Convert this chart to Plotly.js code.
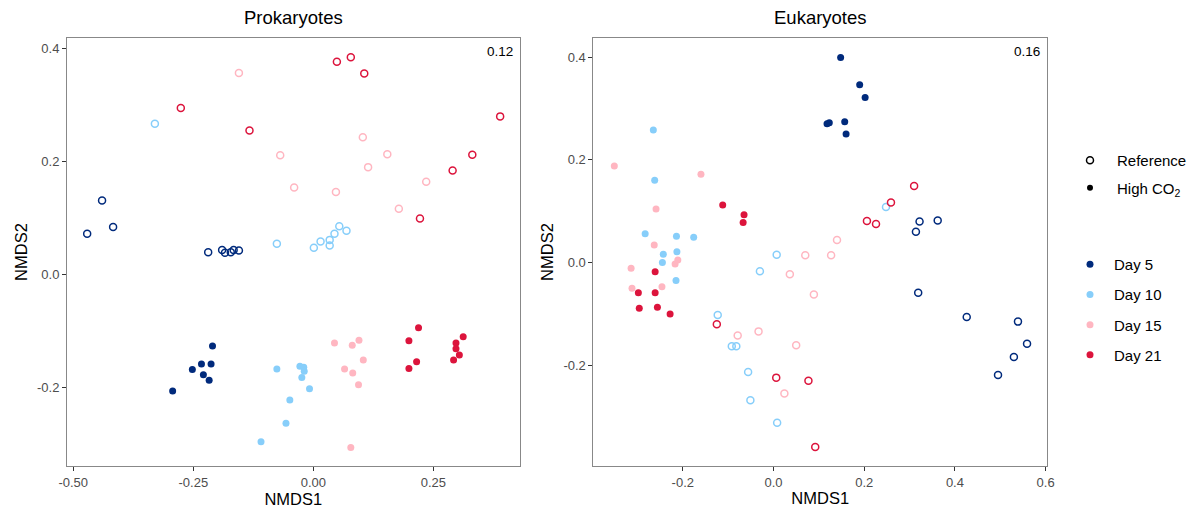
<!DOCTYPE html>
<html>
<head>
<meta charset="utf-8">
<script src="https://cdn.plot.ly/plotly-3.0.1.min.js"></script>
<style>html,body{margin:0;padding:0;background:#fff;}#chart{width:1192px;height:511px;}</style>
</head>
<body>
<div id="chart"></div>
<script>
// ---------- Data (NMDS coordinates) ----------
const panelTitles = ["Prokaryotes", "Eukaryotes"];
const stressLabels = ["0.12", "0.16"];
const days = ["Day 5", "Day 10", "Day 15", "Day 21"];
const dayColors = ["#002a7c", "#87cefa", "#ffb6c1", "#dc143c"];
const treatments = ["Reference", "High CO<sub>2</sub>"];

// Prokaryotes – Reference (open circles)
const pro_ref_d5_x  = [-0.440, -0.471, -0.417, -0.219, -0.190, -0.184, -0.172, -0.166, -0.155];
const pro_ref_d5_y  = [0.131, 0.072, 0.084, 0.039, 0.043, 0.038, 0.039, 0.043, 0.042];
const pro_ref_d10_x = [-0.330, -0.076, 0.001, 0.015, 0.034, 0.034, 0.044, 0.054, 0.069];
const pro_ref_d10_y = [0.267, 0.054, 0.047, 0.058, 0.061, 0.051, 0.072, 0.085, 0.077];
const pro_ref_d15_x = [-0.155, -0.069, -0.040, 0.047, 0.103, 0.114, 0.154, 0.178, 0.235];
const pro_ref_d15_y = [0.357, 0.211, 0.154, 0.146, 0.243, 0.190, 0.213, 0.116, 0.164];
const pro_ref_d21_x = [-0.276, -0.133, 0.049, 0.078, 0.106, 0.389, 0.331, 0.290, 0.222];
const pro_ref_d21_y = [0.295, 0.255, 0.377, 0.385, 0.356, 0.280, 0.212, 0.184, 0.099];
// Prokaryotes – High CO2 (filled)
const pro_high_d5_x  = [-0.210, -0.233, -0.213, -0.252, -0.229, -0.217, -0.293];
const pro_high_d5_y  = [-0.127, -0.159, -0.159, -0.169, -0.178, -0.188, -0.207];
const pro_high_d10_x = [-0.076, -0.028, -0.020, -0.019, -0.024, -0.008, -0.049, -0.057, -0.109];
const pro_high_d10_y = [-0.168, -0.163, -0.165, -0.172, -0.183, -0.203, -0.223, -0.264, -0.297];
const pro_high_d15_x = [0.044, 0.081, 0.095, 0.104, 0.065, 0.082, 0.094, 0.078];
const pro_high_d15_y = [-0.122, -0.126, -0.117, -0.152, -0.168, -0.175, -0.196, -0.307];
const pro_high_d21_x = [0.219, 0.199, 0.215, 0.199, 0.312, 0.297, 0.297, 0.304, 0.292];
const pro_high_d21_y = [-0.095, -0.118, -0.155, -0.167, -0.111, -0.122, -0.132, -0.143, -0.152];

// Eukaryotes – Reference (open circles)
const euk_ref_d5_x  = [0.322, 0.362, 0.314, 0.319, 0.426, 0.539, 0.559, 0.530, 0.495];
const euk_ref_d5_y  = [0.080, 0.082, 0.060, -0.059, -0.106, -0.115, -0.158, -0.184, -0.219];
const euk_ref_d10_x = [0.248, 0.007, -0.030, -0.123, -0.092, -0.082, -0.056, -0.051, 0.008];
const euk_ref_d10_y = [0.108, 0.015, -0.017, -0.102, -0.163, -0.163, -0.213, -0.268, -0.312];
const euk_ref_d15_x = [0.140, 0.127, 0.070, 0.036, 0.089, -0.079, -0.033, 0.050, 0.024];
const euk_ref_d15_y = [0.044, 0.014, 0.014, -0.023, -0.062, -0.142, -0.134, -0.161, -0.255];
const euk_ref_d21_x = [0.310, 0.259, 0.206, 0.226, -0.125, 0.006, 0.077, 0.092];
const euk_ref_d21_y = [0.149, 0.117, 0.081, 0.075, -0.120, -0.224, -0.230, -0.359];
// Eukaryotes – High CO2 (filled)
const euk_high_d5_x  = [0.148, 0.190, 0.202, 0.118, 0.123, 0.157, 0.160];
const euk_high_d5_y  = [0.399, 0.346, 0.321, 0.270, 0.272, 0.274, 0.250];
const euk_high_d10_x = [-0.265, -0.262, -0.283, -0.214, -0.176, -0.243, -0.213, -0.245, -0.215];
const euk_high_d10_y = [0.258, 0.160, 0.056, 0.051, 0.049, 0.016, 0.021, 0.000, -0.035];
const euk_high_d15_x = [-0.351, -0.160, -0.259, -0.263, -0.211, -0.217, -0.314, -0.312, -0.246];
const euk_high_d15_y = [0.188, 0.172, 0.104, 0.034, 0.005, -0.003, -0.011, -0.050, -0.047];
const euk_high_d21_x = [-0.112, -0.065, -0.067, -0.261, -0.298, -0.261, -0.296, -0.256, -0.228];
const euk_high_d21_y = [0.112, 0.093, 0.078, -0.018, -0.059, -0.059, -0.089, -0.087, -0.100];

// Tick labels
const proXTicks = [-0.50, -0.25, 0.00, 0.25];
const proXLabels = ["-0.50", "-0.25", "0.00", "0.25"];
const proYTicks = [-0.2, 0.0, 0.2, 0.4];
const proYLabels = ["-0.2", "0.0", "0.2", "0.4"];
const eukXTicks = [-0.2, 0.0, 0.2, 0.4, 0.6];
const eukXLabels = ["-0.2", "0.0", "0.2", "0.4", "0.6"];
const eukYTicks = [-0.2, 0.0, 0.2, 0.4];
const eukYLabels = ["-0.2", "0.0", "0.2", "0.4"];

// ---------- Build traces ----------
const panels = [
  {ax: ["x", "y"], ref: [[pro_ref_d5_x, pro_ref_d5_y], [pro_ref_d10_x, pro_ref_d10_y], [pro_ref_d15_x, pro_ref_d15_y], [pro_ref_d21_x, pro_ref_d21_y]],
   high: [[pro_high_d5_x, pro_high_d5_y], [pro_high_d10_x, pro_high_d10_y], [pro_high_d15_x, pro_high_d15_y], [pro_high_d21_x, pro_high_d21_y]]},
  {ax: ["x2", "y2"], ref: [[euk_ref_d5_x, euk_ref_d5_y], [euk_ref_d10_x, euk_ref_d10_y], [euk_ref_d15_x, euk_ref_d15_y], [euk_ref_d21_x, euk_ref_d21_y]],
   high: [[euk_high_d5_x, euk_high_d5_y], [euk_high_d10_x, euk_high_d10_y], [euk_high_d15_x, euk_high_d15_y], [euk_high_d21_x, euk_high_d21_y]]}
];

const traces = [];
panels.forEach(p => {
  p.ref.forEach((d, i) => traces.push({
    x: d[0], y: d[1], xaxis: p.ax[0], yaxis: p.ax[1], type: "scatter", mode: "markers", showlegend: false, hoverinfo: "skip",
    marker: {symbol: "circle-open", size: 7, color: dayColors[i], line: {width: 1.5, color: dayColors[i]}}
  }));
  p.high.forEach((d, i) => traces.push({
    x: d[0], y: d[1], xaxis: p.ax[0], yaxis: p.ax[1], type: "scatter", mode: "markers", showlegend: false, hoverinfo: "skip",
    marker: {symbol: "circle", size: 7, color: dayColors[i]}
  }));
});

// Legend entries
treatments.forEach((t, i) => traces.push({
  x: [null], y: [null], type: "scatter", mode: "markers", name: t, legend: "legend", legendgroup: "t" + i,
  marker: i === 0 ? {symbol: "circle-open", size: 7, color: "#000", line: {width: 1.5, color: "#000"}} : {symbol: "circle", size: 6, color: "#000"}
}));
days.forEach((d, i) => traces.push({
  x: [null], y: [null], type: "scatter", mode: "markers", name: d, legend: "legend2", legendgroup: "d" + i,
  marker: {symbol: "circle", size: 7, color: dayColors[i]}
}));

const FONT = "Liberation Sans, Arial, Helvetica, sans-serif";
const axisBase = {
  showgrid: false, zeroline: false, showline: true, mirror: true, linecolor: "#888", linewidth: 1,
  ticks: "outside", ticklen: 4, tickwidth: 1, tickcolor: "#333",
  tickfont: {family: FONT, size: 13, color: "#4d4d4d"}, tickmode: "array", fixedrange: true
};
const xTitle = {text: "NMDS1", font: {family: FONT, size: 16.5, color: "#000"}, standoff: 3};
const yTitle = {text: "NMDS2", font: {family: FONT, size: 16.5, color: "#000"}, standoff: 5};

const layout = {
  width: 1192, height: 511,
  margin: {l: 67, r: 145, t: 38, b: 45},
  paper_bgcolor: "#fff", plot_bgcolor: "#fff",
  font: {family: FONT, color: "#000"},
  xaxis: Object.assign({}, axisBase, {domain: [0, 0.4619], range: [-0.513, 0.4296], tickvals: proXTicks, ticktext: proXLabels, title: xTitle, anchor: "y"}),
  yaxis: Object.assign({}, axisBase, {range: [-0.340, 0.419], tickvals: proYTicks, ticktext: proYLabels, title: yTitle, anchor: "x"}),
  xaxis2: Object.assign({}, axisBase, {domain: [0.5372, 1], range: [-0.397, 0.603], tickvals: eukXTicks, ticktext: eukXLabels, title: xTitle, anchor: "y2"}),
  yaxis2: Object.assign({}, axisBase, {range: [-0.396, 0.437], tickvals: eukYTicks, ticktext: eukYLabels, title: yTitle, anchor: "x2"}),
  annotations: [
    {text: panelTitles[0], xref: "x domain", yref: "y domain", x: 0.5, y: 1, yshift: 33, showarrow: false, font: {family: FONT, size: 18.5, color: "#000"}},
    {text: panelTitles[1], xref: "x2 domain", yref: "y2 domain", x: 0.5, y: 1, yshift: 33, showarrow: false, font: {family: FONT, size: 18.5, color: "#000"}},
    {text: stressLabels[0], xref: "x domain", yref: "y domain", x: 1, y: 1, xshift: -5, yshift: -4, xanchor: "right", showarrow: false, font: {family: FONT, size: 13.5, color: "#000"}},
    {text: stressLabels[1], xref: "x2 domain", yref: "y2 domain", x: 1, y: 1, xshift: -5, yshift: -4, xanchor: "right", showarrow: false, font: {family: FONT, size: 13.5, color: "#000"}}
  ],
  legend: {xref: "container", yref: "container", x: 1063 / 1192, y: 1 - 144 / 511, xanchor: "left", yanchor: "top",
    font: {family: FONT, size: 15, color: "#000"}, traceorder: "grouped", tracegroupgap: 5, itemwidth: 44, bgcolor: "rgba(0,0,0,0)"},
  legend2: {xref: "container", yref: "container", x: 1066 / 1192, y: 1 - 248 / 511, xanchor: "left", yanchor: "top",
    font: {family: FONT, size: 15, color: "#000"}, traceorder: "grouped", tracegroupgap: 7.7, itemwidth: 38, bgcolor: "rgba(0,0,0,0)"}
};

Plotly.newPlot("chart", traces, layout, {displayModeBar: false, staticPlot: true});
</script>
</body>
</html>
